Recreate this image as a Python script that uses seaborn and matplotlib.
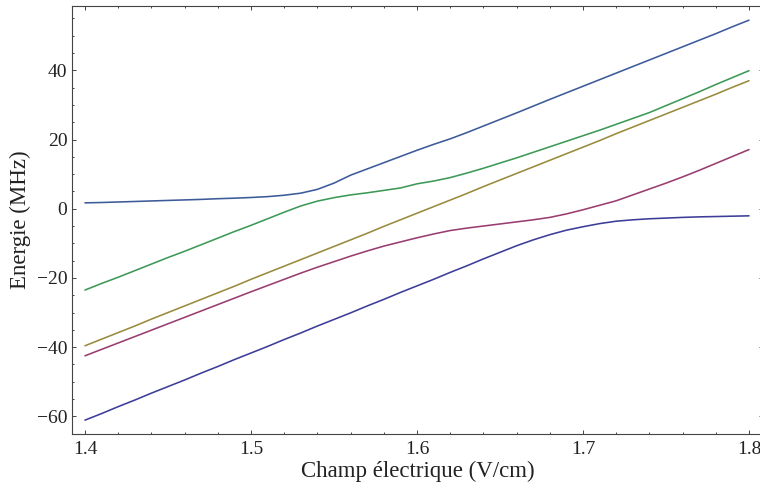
import numpy as np
import pandas as pd
import matplotlib
matplotlib.use("Agg")
import matplotlib.pyplot as plt
import seaborn as sns
from matplotlib.ticker import MultipleLocator

# champ electrique (V/cm)
champ = [1.40, 1.41, 1.42, 1.43, 1.44, 1.45, 1.46, 1.47, 1.48, 1.49,
         1.50, 1.51, 1.52, 1.53, 1.54, 1.55, 1.56, 1.57, 1.58, 1.59,
         1.60, 1.61, 1.62, 1.63, 1.64, 1.65, 1.66, 1.67, 1.68, 1.69,
         1.70, 1.71, 1.72, 1.73, 1.74, 1.75, 1.76, 1.77, 1.78, 1.79, 1.80]

# niveaux d'energie (MHz)
niveau1 = [-61.1, -59.2, -57.2, -55.3, -53.3, -51.4, -49.5, -47.5, -45.6, -43.6,
           -41.7, -39.8, -37.8, -35.9, -33.9, -32.0, -30.1, -28.1, -26.2, -24.2,
           -22.3, -20.4, -18.4, -16.5, -14.5, -12.6, -10.7, -9.0, -7.5, -6.2,
           -5.2, -4.3, -3.6, -3.2, -2.9, -2.7, -2.5, -2.35, -2.25, -2.15, -2.05]
niveau2 = [-42.5, -40.65, -38.8, -36.95, -35.1, -33.25, -31.4, -29.55, -27.7, -25.85,
           -24.0, -22.2, -20.4, -18.6, -16.9, -15.3, -13.7, -12.2, -10.8, -9.6,
           -8.4, -7.3, -6.3, -5.6, -5.0, -4.4, -3.8, -3.2, -2.5, -1.5,
           -0.3, 1.0, 2.3, 4.0, 5.7, 7.4, 9.2, 11.1, 13.1, 15.1, 17.1]
niveau3 = [-39.6, -37.7, -35.8, -33.9, -31.9, -30.0, -28.1, -26.2, -24.3, -22.4,
           -20.4, -18.5, -16.6, -14.7, -12.8, -10.9, -9.0, -7.1, -5.1, -3.2,
           -1.3, 0.6, 2.5, 4.4, 6.4, 8.3, 10.2, 12.1, 14.0, 15.9,
           17.8, 19.7, 21.7, 23.6, 25.5, 27.4, 29.3, 31.2, 33.1, 35.1, 37.0]
niveau4 = [-23.5, -21.6, -19.8, -17.9, -16.0, -14.1, -12.3, -10.4, -8.5, -6.6,
           -4.8, -2.9, -1.0, 0.8, 2.2, 3.2, 4.0, 4.6, 5.3, 6.0,
           7.2, 8.0, 9.0, 10.3, 11.7, 13.2, 14.7, 16.3, 17.9, 19.5,
           21.1, 22.7, 24.4, 26.1, 27.8, 29.8, 31.8, 33.8, 35.9, 37.9, 39.9]
niveau5 = [1.7, 1.8, 1.95, 2.1, 2.25, 2.4, 2.55, 2.7, 2.9, 3.05,
           3.25, 3.5, 3.9, 4.5, 5.6, 7.4, 9.7, 11.5, 13.3, 15.1,
           16.9, 18.6, 20.2, 22.0, 23.9, 25.8, 27.7, 29.65, 31.6, 33.5,
           35.4, 37.3, 39.2, 41.1, 43.0, 44.9, 46.8, 48.7, 50.6, 52.6, 54.5]

# couleurs par defaut de Mathematica
couleurs = [(0.24, 0.24, 0.6), (0.6, 0.24, 0.4428), (0.6, 0.547, 0.24),
            (0.24, 0.6, 0.337), (0.24, 0.353, 0.6)]

sns.set_style("ticks")
plt.rcParams['font.family'] = ['Liberation Serif', 'DejaVu Serif']

fig = plt.figure(figsize=(7.6, 4.9), dpi=100)
ax = fig.add_axes([0.0941, 0.1143, 0.910, 0.8735])

niveaux = [niveau1, niveau2, niveau3, niveau4, niveau5]
for k, niv in enumerate(niveaux):
    df = pd.DataFrame({'champ': champ, 'energie': niv})
    sns.lineplot(data=df, x='champ', y='energie', color=couleurs[k],
                 linewidth=1.15, ax=ax)

ax.set_xlim(1.3919, 1.8085)
ax.set_ylim(-65.1, 58.6)
ax.set_xticks([1.4, 1.5, 1.6, 1.7, 1.8])
ax.set_yticks([-60, -40, -20, 0, 20, 40])
ax.xaxis.set_minor_locator(MultipleLocator(0.02))
ax.yaxis.set_minor_locator(MultipleLocator(5))
ax.tick_params(which='both', direction='in', top=True, right=True,
               color='#444444', width=0.7, labelsize=14, labelcolor='#222222')
ax.tick_params(which='major', length=3.2, pad=3)
ax.tick_params(which='minor', length=1.6)
ax.tick_params(axis='x', which='major', pad=5)
for sp in ax.spines.values():
    sp.set_color('#444444')
    sp.set_linewidth(0.8)

ax.set_xlabel('Champ électrique (V/cm)', fontsize=16.5, color='#222222', labelpad=2)
ax.set_ylabel('Energie (MHz)', fontsize=16.5, color='#222222', labelpad=4)

fig.savefig('out.png', dpi=100)
